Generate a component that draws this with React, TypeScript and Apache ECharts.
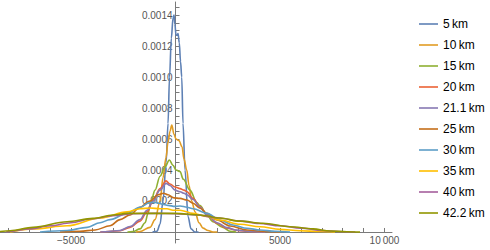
import React, { useEffect, useRef } from "react";
import * as echarts from "echarts";

const seriesNames = ["5\u2009km", "10\u2009km", "15\u2009km", "20\u2009km", "21.1\u2009km", "25\u2009km", "30\u2009km", "35\u2009km", "40\u2009km", "42.2\u2009km"];
const seriesColors = ["#5E81B5", "#E19C24", "#8FB032", "#EB6235", "#8778B3", "#C56E1A", "#5D9EC7", "#FFBF00", "#A5609D", "#929600"];

const km5: [number, number][] = [[-1100, 0], [-885, 0.000005], [-742, 0.00005], [-598, 0.0002], [-450, 0.00045], [-359, 0.0007], [-287, 0.001], [-200, 0.00125], [-120, 0.00138], [-72, 0.0014], [-30, 0.00134], [24, 0.00127], [80, 0.00127], [120, 0.00128], [180, 0.00122], [240, 0.0011], [297, 0.001], [359, 0.0007], [455, 0.0004], [598, 0.0001], [742, 0.00002], [933, 0], [1100, 0]];
const km10: [number, number][] = [[-1900, 0], [-1700, 0.000003], [-1220, 0.00003], [-980, 0.00008], [-740, 0.0002], [-600, 0.00035], [-455, 0.00048], [-360, 0.00058], [-263, 0.00065], [-180, 0.00069], [-72, 0.00063], [24, 0.0006], [167, 0.00059], [311, 0.00055], [407, 0.00047], [536, 0.0004], [646, 0.0003], [775, 0.0002], [933, 0.00013], [1124, 0.00006], [1316, 0.000025], [1555, 0.00001], [1794, 0], [2000, 0]];
const km15: [number, number][] = [[-2300, 0], [-2033, 0.000003], [-1700, 0.00002], [-1460, 0.00006], [-1315, 0.00012], [-1172, 0.0002], [-980, 0.00027], [-740, 0.00036], [-500, 0.00042], [-297, 0.000465], [-120, 0.00043], [24, 0.0004], [215, 0.00039], [373, 0.00034], [694, 0.00027], [1014, 0.00019], [1172, 0.00017], [1500, 0.00011], [1794, 0.000066], [2272, 0.00003], [2608, 0.000005], [2900, 0]];
const km20: [number, number][] = [[-3600, 0], [-3370, 0.000002], [-2655, 0.000008], [-2177, 0.00003], [-1700, 0.00007], [-1364, 0.00013], [-1077, 0.0002], [-742, 0.00028], [-455, 0.00033], [-263, 0.00031], [-24, 0.00029], [215, 0.00028], [407, 0.00027], [550, 0.00026], [837, 0.000217], [1172, 0.000163], [1507, 0.00011], [1986, 0.000056], [2464, 0.000024], [2943, 0.00001], [3565, 0.000003], [4282, 0]];
const km21: [number, number][] = [[-3600, 0], [-3370, 0.000002], [-2655, 0.00001], [-2177, 0.000035], [-1700, 0.00008], [-1364, 0.00014], [-1077, 0.0002], [-742, 0.00027], [-455, 0.000314], [-263, 0.0003], [-24, 0.00027], [215, 0.00026], [407, 0.00025], [550, 0.00024], [837, 0.00021], [1172, 0.00016], [1507, 0.00011], [1986, 0.00006], [2464, 0.000028], [2943, 0.000012], [3565, 0.000004], [4300, 0]];
const km25: [number, number][] = [[-5526, 0], [-4569, 0.000005], [-3850, 0.000013], [-3134, 0.00004], [-2656, 0.00008], [-2177, 0.00011], [-1700, 0.00016], [-1220, 0.0002], [-837, 0.00024], [-574, 0.00025], [-359, 0.00024], [-72, 0.00022], [215, 0.000217], [550, 0.000206], [837, 0.000185], [1172, 0.000153], [1507, 0.00012], [1986, 0.000077], [2608, 0.000039], [3421, 0.000013], [4282, 0.000003], [5000, 0]];
const km30: [number, number][] = [[-6483, 0], [-5191, 0.00001], [-4234, 0.00003], [-3612, 0.00006], [-3134, 0.00008], [-2321, 0.00012], [-1700, 0.00016], [-1220, 0.00019], [-980, 0.00019], [-646, 0.00018], [-359, 0.000172], [-24, 0.000165], [215, 0.000168], [550, 0.00016], [837, 0.00015], [1507, 0.00012], [2129, 0.000077], [2751, 0.000045], [3421, 0.000024], [4043, 0.000013], [4761, 0.000005], [5478, 0]];
const km35: [number, number][] = [[-7919, 0], [-6818, 0.00002], [-5191, 0.00004], [-3612, 0.00009], [-2321, 0.00013], [-1700, 0.00015], [-1220, 0.000155], [-742, 0.00015], [-407, 0.00015], [-120, 0.00014], [215, 0.00014], [837, 0.00012], [1507, 0.0001], [2129, 0.000077], [3086, 0.00005], [4043, 0.000034], [5000, 0.000017], [5957, 0.000008], [6914, 0.000003], [7632, 0]];
const km40: [number, number][] = [[-8100, 0], [-8000, 0.000003], [-7000, 0.00002], [-6000, 0.00004], [-5000, 0.00006], [-4000, 0.000085], [-3000, 0.000105], [-2000, 0.000118], [-1000, 0.00012], [0, 0.000118], [1000, 0.00011], [2000, 0.000092], [3000, 0.000072], [4000, 0.000055], [5000, 0.00004], [6000, 0.000025], [7000, 0.00001], [8000, 0.000002], [8600, 0]];
const km42: [number, number][] = [[-8400, 0.000003], [-7919, 0.000008], [-6818, 0.00003], [-5191, 0.000066], [-3947, 0.000088], [-2990, 0.00011], [-2321, 0.00012], [-1220, 0.00012], [-24, 0.00012], [1172, 0.00011], [2129, 0.00009], [3086, 0.00007], [4187, 0.000056], [5478, 0.000034], [6579, 0.00002], [7392, 0.000006], [8206, 0.000002], [8828, 0]];

const seriesData = [km5, km10, km15, km20, km21, km25, km30, km35, km40, km42];

const xLabelValues = [-5000, 5000, 10000];
const xTicks = [-8000, -7000, -6000, -5000, -4000, -3000, -2000, -1000, 1000, 2000, 3000, 4000, 5000, 6000, 7000, 8000, 9000, 10000];
const yLabelValues = [0.0002, 0.0004, 0.0006, 0.0008, 0.001, 0.0012, 0.0014];
const yTicks = [-0.00005, 0.00005, 0.0001, 0.00015, 0.0002, 0.00025, 0.0003, 0.00035, 0.0004, 0.00045, 0.0005, 0.00055, 0.0006, 0.00065, 0.0007, 0.00075, 0.0008, 0.00085, 0.0009, 0.00095, 0.001, 0.00105, 0.0011, 0.00115, 0.0012, 0.00125, 0.0013, 0.00135, 0.0014, 0.00145];

const X_MIN = -8400;
const X_MAX = 10360;
const Y_MIN = -0.000071;
const Y_MAX = 0.001484;

const GRID_LEFT = 0;
const GRID_RIGHT = 98;
const GRID_TOP = 2;
const GRID_BOTTOM = 7;
const CHART_W = 490;
const CHART_H = 250;

const AXIS_COLOR = "#7a7a7a";
const LABEL_COLOR = "#555";
const FONT = "'Liberation Sans', Arial, sans-serif";

function xLabel(v: number): string {
  if (v === 10000) return "10\u2009000";
  if (v < 0) return "\u2212" + String(Math.abs(v));
  return String(v);
}

export default function App() {
  const ref = useRef<HTMLDivElement>(null);
  useEffect(() => {
    if (!ref.current) return;
    const chart = echarts.init(ref.current, null, { renderer: "svg" });
    // distance from grid edges to the zero lines (labels stay on grid edges in this version)
    const gridW = CHART_W - GRID_LEFT - GRID_RIGHT;
    const gridH = CHART_H - GRID_TOP - GRID_BOTTOM;
    const zeroFromLeft = (gridW * (0 - X_MIN)) / (X_MAX - X_MIN);
    const zeroFromBottom = (gridH * (0 - Y_MIN)) / (Y_MAX - Y_MIN);
    chart.setOption({
      animation: false,
      grid: { left: GRID_LEFT, right: GRID_RIGHT, top: GRID_TOP, bottom: GRID_BOTTOM, containLabel: false, outerBoundsMode: "none" },
      xAxis: {
        type: "value",
        min: X_MIN,
        max: X_MAX,
        splitLine: { show: false },
        axisLine: { show: true, onZero: true, lineStyle: { color: AXIS_COLOR, width: 1 } },
        axisTick: { show: true, inside: true, length: 4, customValues: xTicks, lineStyle: { color: AXIS_COLOR } },
        axisLabel: {
          show: true,
          customValues: xLabelValues,
          formatter: (v: number) => xLabel(v),
          color: LABEL_COLOR,
          fontSize: 10,
          fontFamily: FONT,
          margin: 4 - zeroFromBottom,
        },
      },
      yAxis: {
        type: "value",
        min: Y_MIN,
        max: Y_MAX,
        splitLine: { show: false },
        axisLine: { show: true, onZero: true, lineStyle: { color: AXIS_COLOR, width: 1 } },
        axisTick: { show: true, inside: true, length: 4, customValues: yTicks, lineStyle: { color: AXIS_COLOR } },
        axisLabel: {
          show: true,
          customValues: yLabelValues,
          formatter: (v: number) => v.toFixed(4),
          color: LABEL_COLOR,
          fontSize: 10,
          fontFamily: FONT,
          margin: 3 - zeroFromLeft,
        },
      },
      legend: {
        orient: "vertical",
        left: 414,
        top: 13,
        icon: "rect",
        itemWidth: 19,
        itemHeight: 1.6,
        itemGap: 9,
        textStyle: { fontSize: 12, color: "#000", fontFamily: FONT },
        data: seriesNames,
      },
      series: seriesData.map((d, i) => ({
        name: seriesNames[i],
        type: "line",
        data: d,
        symbol: "none",
        showSymbol: false,
        smooth: 0.35,
        smoothMonotone: "x",
        clip: true,
        color: seriesColors[i],
        lineStyle: { color: seriesColors[i], width: 1.6 },
      })),
    });
    return () => chart.dispose();
  }, []);
  return (
    <div
      ref={ref}
      style={{ position: "fixed", left: 0, top: 0, width: CHART_W, height: CHART_H, background: "#fff" }}
    />
  );
}
